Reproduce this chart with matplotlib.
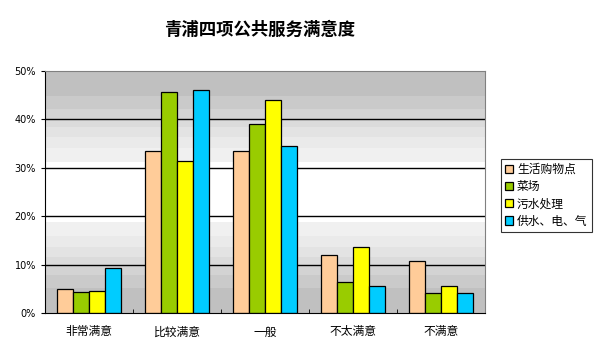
import matplotlib.pyplot as plt
import numpy as np
from matplotlib.ticker import FuncFormatter

plt.rcParams['font.family'] = ['Noto Sans CJK SC', 'DejaVu Sans']

# 数据
categories = ['非常满意', '比较满意', '一般', '不太满意', '不满意']
series_names = ['生活购物点', '菜场', '污水处理', '供水、电、气']
shop = [4.9, 33.5, 33.5, 11.9, 10.7]
market = [4.3, 45.6, 39.0, 6.5, 4.1]
sewage = [4.5, 31.5, 44.1, 13.6, 5.5]
utility = [9.2, 46.0, 34.6, 5.5, 4.1]
colors = ['#FFCC99', '#99CC00', '#FFFF00', '#00CCFF']

# background bands (gradient look)
band_edges = [0, 5.1, 7.9, 10, 11.6, 13.6, 16, 18.8]
band_grays = ['#C0C0C0', '#CACACA', '#D3D3D3', '#DBDBDB', '#E3E3E3', '#EAEAEA', '#F0F0F0']

fig = plt.figure(figsize=(5.99, 3.57), dpi=100)
ax = fig.add_axes([45 / 599, 44 / 357, 440 / 599, 242 / 357])

for i, g in enumerate(band_grays):
    lo, hi = band_edges[i], band_edges[i + 1]
    ax.axhspan(lo, hi, color=g, lw=0, zorder=0)
    ax.axhspan(50 - hi, 50 - lo, color=g, lw=0, zorder=0)

for y in [10, 20, 30, 40]:
    ax.axhline(y, color='black', lw=1, zorder=1)

x = np.arange(len(categories))
w = 0.18
data = [shop, market, sewage, utility]
for i, (vals, name, c) in enumerate(zip(data, series_names, colors)):
    ax.bar(x + (i - 1.5) * w, vals, w, color=c, edgecolor='black', lw=0.9,
           label=name, zorder=2)

ax.set_xlim(-0.5, len(categories) - 0.5)
ax.set_ylim(0, 50)
ax.set_yticks([0, 10, 20, 30, 40, 50])
ax.yaxis.set_major_formatter(FuncFormatter(lambda v, p: f'{v:.0f}%'))
ax.tick_params(axis='y', labelsize=7, length=3)
for lab in ax.get_yticklabels():
    lab.set_family('DejaVu Sans')

ax.set_xticks(x)
ax.set_xticklabels(categories, fontsize=8.5)
ax.tick_params(axis='x', length=0, pad=9)
ax.set_xticks(np.arange(0.5, len(categories) - 0.5, 1), minor=True)
ax.tick_params(axis='x', which='minor', direction='in', length=3)

for s in ['left', 'bottom']:
    ax.spines[s].set_color('black')
for s in ['top', 'right']:
    ax.spines[s].set_color('#808080')

fig.text(260 / 599, 1 - 30 / 357, '青浦四项公共服务满意度', ha='center', va='center',
         fontsize=12.5, fontweight='bold')

leg = fig.legend(loc='upper left', bbox_to_anchor=(501 / 599, 1 - 159 / 357),
                 fontsize=8.5, frameon=True, fancybox=False, handlelength=0.7,
                 handleheight=0.7, handletextpad=0.3, borderpad=0.35,
                 labelspacing=0.35, borderaxespad=0)
leg.get_frame().set_edgecolor('black')
leg.get_frame().set_linewidth(0.8)

fig.savefig('out.png', dpi=100)
